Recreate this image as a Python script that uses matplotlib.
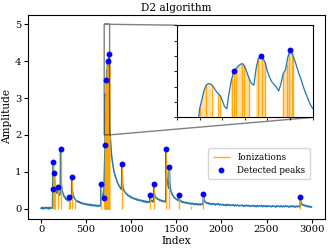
import matplotlib
matplotlib.use("Agg")
import matplotlib.pyplot as plt
import numpy as np

plt.rcParams['font.family'] = ['DejaVu Serif']

# ---- signal (index, amplitude) ----
sig_idx = [0, 10, 20, 30, 40, 50, 60, 70, 80, 90, 100, 110, 120, 126,
           127, 128, 130, 133, 136, 139, 143, 147, 150, 155, 160, 166, 172, 178, 183, 188,
           195, 202, 208, 213, 216, 219, 223, 228, 234, 240, 248, 256, 265, 275, 285, 295,
           305, 312, 317, 324, 332, 338, 341, 345, 350, 357, 365, 375, 385, 395,
           405, 415, 425, 435, 445, 455, 465, 475, 485, 495, 505, 515, 525, 535, 545, 555,
           565, 575, 585, 595, 605, 615, 625, 635, 645, 655, 661, 663, 667, 672, 678, 684,
           690, 693, 696,
           700, 703, 706, 708, 709, 710, 711, 712, 713, 714, 715, 716, 717, 718, 719, 720,
           721, 722, 723, 724, 725, 726, 727, 728, 729, 730, 731, 732, 733, 734, 735, 736,
           737, 738, 739, 740, 741, 742, 743, 744, 745, 746, 747, 748, 749, 750, 751, 752,
           753, 754, 755, 756, 757, 758, 759, 760,
           763, 767, 772, 777, 782, 788, 795, 802, 810, 818, 827, 836, 845, 855, 865, 875,
           885, 892, 898, 902, 908, 915, 925, 935, 945, 955, 965, 975, 985, 995,
           1005, 1015, 1025, 1035, 1045, 1055, 1065, 1075, 1085, 1095, 1105, 1115, 1125, 1135,
           1145, 1155, 1165, 1175, 1185, 1195, 1203, 1206, 1210, 1216, 1224, 1232, 1240, 1246,
           1250, 1254, 1260, 1268, 1276, 1285, 1295, 1305, 1315, 1325, 1335, 1345, 1355, 1365,
           1375, 1383, 1386, 1390, 1395, 1402, 1410, 1417, 1423, 1427, 1433, 1440, 1448, 1457,
           1466, 1475, 1485, 1495, 1505, 1515, 1522, 1526, 1530, 1537, 1545, 1555, 1565, 1575,
           1585, 1595, 1605, 1615, 1625, 1635, 1645, 1655, 1665, 1675, 1685, 1695, 1705, 1715,
           1725, 1735, 1745, 1755, 1765, 1775, 1785, 1795, 1801, 1805, 1812, 1820, 1830, 1840,
           1850, 1860, 1870, 1882, 1894, 1906, 1918, 1930, 1942, 1954, 1966, 1978, 1990, 2002,
           2014, 2026, 2038, 2050, 2062, 2074, 2086, 2098, 2110, 2122, 2134, 2146, 2158, 2170,
           2182, 2194, 2206, 2218, 2230, 2242, 2254, 2266, 2278, 2290, 2302, 2314, 2326, 2338,
           2350, 2362, 2374, 2386, 2398, 2410, 2422, 2434, 2446, 2458, 2470, 2482, 2494, 2506,
           2518, 2530, 2542, 2554, 2566, 2578, 2590, 2602, 2614, 2626, 2638, 2650, 2662, 2674,
           2686, 2698, 2710, 2722, 2734, 2746, 2758, 2770, 2782, 2794, 2806, 2818, 2830, 2842,
           2854, 2866, 2873, 2875, 2879, 2885, 2892, 2900, 2910, 2920, 2930, 2940, 2950, 2960,
           2970, 2980, 2990, 2999]
sig_amp = [0.01, 0.04, -0.01, 0.03, 0.00, 0.04, 0.01, 0.03, -0.01, 0.04, 0.00, 0.03, 0.01, 0.03,
           0.05, 0.54, 0.75, 0.95, 1.25, 0.85, 0.70, 0.98, 0.80, 0.62, 0.50, 0.45, 0.42, 0.48, 0.58, 0.45,
           0.40, 0.36, 0.38, 0.45, 1.63, 1.05, 0.75, 0.58, 0.50, 0.42, 0.40, 0.32, 0.32, 0.25, 0.26, 0.21,
           0.23, 0.31, 0.24, 0.22, 0.25, 0.35, 0.85, 0.60, 0.45, 0.36, 0.30, 0.27, 0.23, 0.20,
           0.21, 0.17, 0.19, 0.15, 0.17, 0.13, 0.15, 0.12, 0.14, 0.11, 0.13, 0.10, 0.12, 0.09, 0.12, 0.08,
           0.11, 0.08, 0.10, 0.07, 0.10, 0.07, 0.09, 0.06, 0.09, 0.07, 0.08, 0.66, 0.50, 0.42, 0.37, 0.34,
           0.31, 0.30, 0.40,
           0.80, 1.10, 1.40, 1.55, 1.72, 2.30, 2.60, 2.90, 3.07, 3.10, 3.08, 3.00, 2.88, 2.78, 2.72, 2.55,
           2.35, 2.28, 2.80, 3.20, 3.48, 3.58, 3.66, 3.73, 3.75, 3.65, 3.45, 3.25, 3.10, 3.05, 3.60, 3.92,
           3.99, 3.93, 3.78, 3.50, 3.30, 3.15, 3.07, 2.98, 2.86, 3.10, 3.43, 3.55, 3.95, 4.18, 4.08, 3.88,
           3.65, 3.42, 3.22, 2.98, 2.78, 2.60, 2.42, 2.30,
           2.10, 1.95, 1.75, 1.60, 1.45, 1.32, 1.20, 1.10, 1.00, 0.92, 0.85, 0.78, 0.72, 0.67, 0.62, 0.58,
           0.55, 0.52, 1.22, 0.75, 0.60, 0.52, 0.47, 0.44, 0.40, 0.39, 0.35, 0.36, 0.32, 0.33,
           0.29, 0.30, 0.27, 0.28, 0.25, 0.27, 0.23, 0.25, 0.22, 0.24, 0.21, 0.23, 0.19, 0.22,
           0.18, 0.21, 0.17, 0.20, 0.17, 0.19, 0.17, 0.36, 0.28, 0.24, 0.20, 0.21, 0.18, 0.20,
           0.67, 0.45, 0.37, 0.33, 0.29, 0.28, 0.25, 0.26, 0.22, 0.24, 0.20, 0.22, 0.19, 0.21,
           0.18, 0.20, 1.62, 1.10, 0.85, 0.70, 0.60, 0.55, 1.12, 0.75, 0.58, 0.48, 0.42, 0.37,
           0.34, 0.30, 0.29, 0.26, 0.26, 0.22, 0.23, 0.36, 0.27, 0.24, 0.20, 0.21, 0.17, 0.19,
           0.16, 0.18, 0.15, 0.17, 0.14, 0.16, 0.13, 0.15, 0.12, 0.15, 0.12, 0.14, 0.11, 0.14,
           0.11, 0.13, 0.10, 0.13, 0.10, 0.13, 0.11, 0.13, 0.40, 0.27, 0.21, 0.18, 0.17, 0.14,
           0.16, 0.13, 0.15, 0.11, 0.14, 0.12, 0.14, 0.10, 0.13, 0.11, 0.14, 0.10, 0.12, 0.10,
           0.12, 0.09, 0.11, 0.08, 0.12, 0.09, 0.11, 0.08, 0.10, 0.09, 0.11, 0.07, 0.10, 0.08,
           0.10, 0.07, 0.09, 0.08, 0.10, 0.06, 0.09, 0.07, 0.10, 0.07, 0.09, 0.06, 0.08, 0.07,
           0.09, 0.06, 0.08, 0.05, 0.09, 0.06, 0.08, 0.07, 0.09, 0.05, 0.08, 0.06, 0.08, 0.05,
           0.08, 0.06, 0.07, 0.05, 0.08, 0.06, 0.07, 0.04, 0.08, 0.06, 0.07, 0.05, 0.08, 0.05,
           0.07, 0.05, 0.08, 0.06, 0.07, 0.04, 0.07, 0.05, 0.08, 0.05, 0.07, 0.04, 0.07, 0.05,
           0.07, 0.05, 0.06, 0.31, 0.20, 0.15, 0.12, 0.10, 0.11, 0.08, 0.09, 0.06, 0.08, 0.05,
           0.07, 0.04, 0.06, 0.04]

# ---- ionizations (position, amplitude) ----
ion_pos = [128, 136, 147, 150, 183, 216, 312, 322, 341, 380, 663, 693,
           710.1, 712.9, 715.3, 718.2, 719.0, 724.2, 725.2, 726.0, 728.6, 729.6, 732.0,
           735.9, 737.4, 738.9, 747.0, 748.5, 749.6, 750.7, 751.4,
           898, 1206, 1250, 1386, 1423, 1526, 1668, 1801, 2875]
ion_amp = [0.54, 1.25, 0.98, 0.75, 0.58, 1.63, 0.31, 0.22, 0.85, 0.27, 0.66, 0.30,
           2.33, 3.05, 3.06, 2.77, 2.72, 3.26, 3.50, 3.58, 3.74, 3.69, 3.25,
           3.89, 3.97, 3.79, 3.43, 3.75, 4.09, 4.11, 4.00,
           1.22, 0.36, 0.67, 1.62, 1.12, 0.36, 0.08, 0.40, 0.31]
# dense ionization bursts (index ranges)
ion_bursts = [(709, 715), (724, 732), (735, 739), (747, 751)]

# ---- detected peaks ----
peak_idx = [128, 136, 147, 183, 216, 312, 341, 663, 693, 709, 725, 737, 750,
            898, 1206, 1250, 1386, 1423, 1526, 1801, 2875]
peak_amp = [0.54, 1.26, 0.98, 0.58, 1.63, 0.31, 0.85, 0.66, 0.30, 1.72, 3.50, 3.99, 4.18,
            1.22, 0.36, 0.67, 1.62, 1.12, 0.36, 0.40, 0.31]

x = np.array(sig_idx, dtype=float)
y = np.array(sig_amp)
burst_mask = np.zeros_like(x, dtype=bool)
for a, b in ion_bursts:
    burst_mask |= (x >= a) & (x <= b)

fig = plt.figure(figsize=(3.32, 2.5), dpi=100)
ax = fig.add_axes([0.083, 0.124, 0.896, 0.816])


def draw(a, sig_z, ion_z, lw):
    a.plot(x, y, color='#1f77b4', lw=lw, zorder=sig_z)
    a.fill_between(x, 0, y, where=burst_mask, color='orange', alpha=0.35,
                   lw=0, zorder=ion_z)
    a.vlines(ion_pos, 0, ion_amp, color='orange', lw=1.0, alpha=0.9,
             zorder=ion_z, label='Ionizations')
    a.plot(peak_idx, peak_amp, 'o', color='blue', ms=3.2, zorder=5,
           label='Detected peaks')


draw(ax, 2, 3, 1.1)
ax.set_title('D2 algorithm', fontsize=7.6, pad=3)
ax.set_xlabel('Index', fontsize=7.6, labelpad=1)
ax.set_ylabel('Amplitude', fontsize=7.6, labelpad=2)
ax.tick_params(labelsize=7.2, length=3, pad=1.5)
ax.set_xticks([0, 500, 1000, 1500, 2000, 2500, 3000])
ax.set_yticks([0, 1, 2, 3, 4, 5])
ax.set_xlim(-150, 3149)
ax.set_ylim(-0.28, 5.25)
leg = ax.legend(loc='upper left', bbox_to_anchor=(0.593, 0.368), fontsize=6.3,
                handlelength=2.0, borderpad=0.5, labelspacing=0.5)

axins = ax.inset_axes([0.503, 0.498, 0.455, 0.452])
draw(axins, 4, 3, 0.9)
axins.set_xlim(700, 760)
axins.set_ylim(2, 5)
axins.set_xticks([700, 710, 720, 730, 740, 750, 760])
axins.set_yticks([2.0, 2.5, 3.0, 3.5, 4.0, 4.5, 5.0])
axins.set_xticklabels([])
axins.set_yticklabels([])
axins.tick_params(length=2, width=0.6)
for s in axins.spines.values():
    s.set_linewidth(0.8)
ax.indicate_inset_zoom(axins, edgecolor='black')

fig.savefig('out.png', dpi=100)
